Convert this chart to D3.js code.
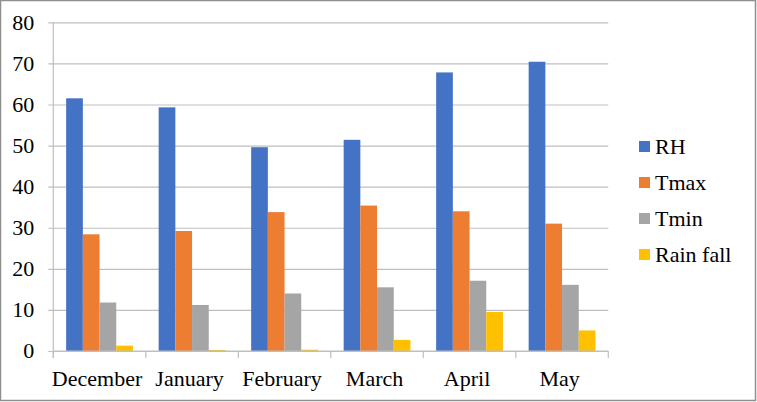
<!DOCTYPE html>
<html>
<head>
<meta charset="utf-8">
<script src="https://cdn.jsdelivr.net/npm/d3@7"></script>
<style>
  body { margin: 0; background: #fff; }
  svg { display: block; }
  svg text { font-family: 'Liberation Serif', 'Times New Roman', serif; fill: #000; }
</style>
</head>
<body>
<svg id="chart" width="757" height="402"></svg>
<script>
// chart data
const months = ["December", "January", "February", "March", "April", "May"];
const seriesNames = ["RH", "Tmax", "Tmin", "Rain fall"];
const rh = [61.5, 59.3, 49.6, 51.4, 67.8, 70.4];
const tmax = [28.4, 29.2, 33.8, 35.4, 34.0, 31.0];
const tmin = [11.8, 11.2, 14.0, 15.5, 17.1, 16.1];
const rainfall = [1.3, 0.25, 0.3, 2.7, 9.5, 5.0];
const yTicks = [0, 10, 20, 30, 40, 50, 60, 70, 80];
const colors = ["#4472C4", "#ED7D31", "#A5A5A5", "#FFC000"];

const seriesValues = [rh, tmax, tmin, rainfall];
const serif = "'Liberation Serif', 'Times New Roman', serif";
const fontSize = "22px";

let svg = d3.select("#chart");

// outer frame
svg.append("rect")
    .attr("x", 0.5).attr("y", 0.5)
    .attr("width", 755).attr("height", 400)
    .attr("fill", "#fff")
    .attr("stroke", "#8f8f8f")
    .attr("stroke-width", 1.5);

const plotLeft = 53.3, plotRight = 608.3;
const plotTop = 22.3, plotBottom = 351;

const x0 = d3.scaleBand()
    .domain(months)
    .range([plotLeft, plotRight])
    .paddingInner(0)
    .paddingOuter(0);

const x1 = d3.scaleBand()
    .domain(seriesNames)
    .range([0, x0.bandwidth()])
    .paddingInner(0)
    .paddingOuter(0.77);

const y = d3.scaleLinear()
    .domain([0, 80])
    .range([plotBottom, plotTop]);

// grid lines + y tick labels
const gridW = plotRight - plotLeft + 5;
const yAxis = d3.axisLeft(y)
    .tickValues(yTicks)
    .tickSize(gridW)
    .tickPadding(14)
    .tickFormat(d3.format("d"));

let gy = svg.append("g")
    .attr("transform", `translate(${plotLeft - 5},0)`);
gy.call(yAxis);
gy.select(".domain").remove();
gy.selectAll(".tick line")
    .attr("x1", 0)
    .attr("x2", gridW)
    .attr("stroke", "#bfbfbf")
    .attr("stroke-width", 1.2);
gy.selectAll(".tick text")
    .attr("x", -14)
    .attr("dy", "0.31em")
    .style("font-family", serif)
    .style("font-size", fontSize);

// vertical axis line
svg.append("line")
    .attr("x1", plotLeft).attr("x2", plotLeft)
    .attr("y1", plotTop).attr("y2", plotBottom + 7)
    .attr("stroke", "#bfbfbf")
    .attr("stroke-width", 1.2);

// bars
const groups = svg.append("g").selectAll("g")
    .data(months)
    .enter().append("g")
    .attr("transform", d => `translate(${x0(d)},0)`);

groups.selectAll("rect")
    .data((m, i) => seriesNames.map((s, j) => ({series: s, value: seriesValues[j][i], color: colors[j]})))
    .enter().append("rect")
    .attr("x", d => x1(d.series))
    .attr("y", d => y(d.value))
    .attr("width", x1.bandwidth())
    .attr("height", d => plotBottom - y(d.value))
    .attr("fill", d => d.color);

// x axis
const xAxis = d3.axisBottom(x0).tickSize(0).tickPadding(19);
let gx = svg.append("g")
    .attr("transform", `translate(0,${plotBottom})`);
gx.call(xAxis);
gx.select(".domain").attr("stroke", "#bfbfbf").attr("stroke-width", 1.2)
    .attr("d", `M${plotLeft},0H${plotRight}`);
gx.selectAll(".tick text")
    .attr("x", -2.5)
    .style("font-family", serif)
    .style("font-size", fontSize);

// category separators below the axis
const seps = months.map(m => x0(m)).concat([plotRight]);
gx.selectAll(".sep")
    .data(seps)
    .enter().append("line")
    .attr("class", "sep")
    .attr("x1", d => d).attr("x2", d => d)
    .attr("y1", 0).attr("y2", 7)
    .attr("stroke", "#bfbfbf")
    .attr("stroke-width", 1.2);

// legend
const legend = svg.append("g").attr("transform", "translate(639,141)");
const items = legend.selectAll("g")
    .data(seriesNames)
    .enter().append("g")
    .attr("transform", (d, i) => `translate(0,${i * 36})`);
items.append("rect")
    .attr("width", 11).attr("height", 11)
    .attr("fill", (d, i) => colors[i]);
items.append("text")
    .attr("x", 16)
    .attr("y", 13)
    .style("font-family", serif)
    .style("font-size", fontSize)
    .text(d => d);
</script>
</body>
</html>
